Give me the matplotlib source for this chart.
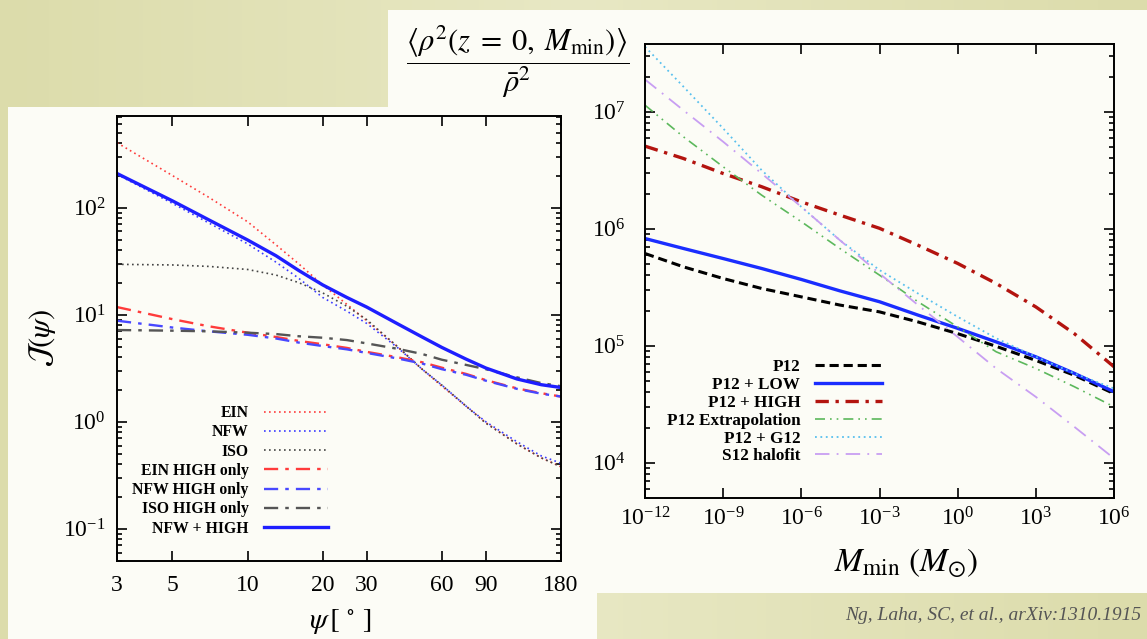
import numpy as np
import matplotlib
matplotlib.use('Agg')
import matplotlib.pyplot as plt
from matplotlib.patches import Rectangle
from matplotlib.ticker import FixedLocator, FixedFormatter, LogLocator, NullLocator, NullFormatter, LogFormatterMathtext

plt.rcParams['font.family'] = ['Liberation Serif', 'DejaVu Serif']
plt.rcParams['mathtext.fontset'] = 'stix'
plt.rcParams['axes.unicode_minus'] = False

# slide colours
khaki = '#dcdcab'
khaki_light = '#e8e8c4'
panel_white = '#fcfcf6'

# ---- left panel: J(psi) ----
psi = [3, 5, 7, 10, 13, 16, 20, 25, 30, 40, 50, 60, 75, 90, 120, 150, 180]
psi_ticks = [3, 5, 10, 20, 30, 60, 90, 180]
j_ein = [405, 200, 125, 74, 45, 30, 19, 12.5, 8.8, 5.0, 3.1, 2.15, 1.4, 0.98, 0.62, 0.46, 0.38]
j_nfw = [205, 110, 72, 46, 31, 22, 14.5, 10.8, 8.3, 4.9, 3.1, 2.2, 1.4, 1.0, 0.65, 0.48, 0.41]
j_iso = [29.6, 29.2, 28.3, 26.5, 23.5, 20, 16, 12, 9.0, 5.0, 3.1, 2.2, 1.4, 0.97, 0.62, 0.46, 0.38]
j_ein_high = [11.8, 9.1, 7.8, 6.8, 6.2, 5.7, 5.3, 4.9, 4.5, 4.0, 3.6, 3.2, 2.8, 2.45, 2.05, 1.85, 1.72]
j_nfw_high = [8.8, 7.6, 7.0, 6.5, 6.0, 5.5, 5.1, 4.75, 4.4, 3.9, 3.5, 3.1, 2.75, 2.42, 2.03, 1.83, 1.72]
j_iso_high = [7.2, 7.1, 7.0, 6.8, 6.6, 6.3, 6.1, 5.8, 5.4, 4.8, 4.3, 3.8, 3.4, 3.1, 2.6, 2.3, 2.15]
j_nfw_plus_high = [209, 116, 77, 50, 35.6, 26, 19, 14.5, 11.8, 8.2, 6.2, 4.95, 3.85, 3.18, 2.51, 2.22, 2.09]

# ---- right panel: clumping factor vs M_min ----
mmin = [1e-12, 3e-11, 1e-9, 3e-8, 1e-6, 3e-5, 1e-3, 3e-2, 1, 30, 1e3, 3e4, 1e6]
mmin_ticks = [1e-12, 1e-9, 1e-6, 1e-3, 1e0, 1e3, 1e6]
c_p12 = [6.15e5, 4.73e5, 3.76e5, 3.09e5, 2.62e5, 2.23e5, 1.95e5, 1.60e5, 1.27e5, 9.9e4, 7.5e4, 5.6e4, 3.9e4]
c_p12_low = [8.26e5, 6.79e5, 5.57e5, 4.58e5, 3.69e5, 2.95e5, 2.38e5, 1.83e5, 1.41e5, 1.08e5, 8.05e4, 5.81e4, 4.05e4]
c_p12_high = [5.09e6, 3.99e6, 2.97e6, 2.29e6, 1.70e6, 1.31e6, 1.01e6, 7.24e5, 5.06e5, 3.41e5, 2.15e5, 1.27e5, 6.62e4]
c_p12_extrap = [1.14e7, 6.11e6, 3.39e6, 1.94e6, 1.15e6, 6.79e5, 4.02e5, 2.38e5, 1.45e5, 8.89e4, 6.40e4, 4.47e4, 3.01e4]
c_p12_g12 = [3.6e7, 1.64e7, 7.21e6, 3.17e6, 1.54e6, 8.0e5, 4.44e5, 2.80e5, 1.77e5, 1.16e5, 8.05e4, 5.81e4, 4.32e4]
c_s12 = [1.89e7, 1.03e7, 5.55e6, 2.97e6, 1.54e6, 8.0e5, 4.15e5, 2.23e5, 1.19e5, 6.40e4, 3.66e4, 2.03e4, 1.09e4]

W, H = 1147, 639
fig = plt.figure(figsize=(W / 100, H / 100), dpi=100)

# slide background (soft gradient) and the two white panels
bg = fig.add_axes([0, 0, 1, 1], zorder=-10)
grad = np.linspace(0, 1, 256)[None, :]
bg.imshow(grad, aspect='auto', extent=[0, 1, 0, 1],
          cmap=matplotlib.colors.LinearSegmentedColormap.from_list('k', [khaki, khaki_light, khaki]))
bg.axis('off')
fig.patches.append(Rectangle((8 / W, 0), 589 / W, 532 / H, transform=fig.transFigure,
                             facecolor=panel_white, edgecolor='none', zorder=-5))
fig.patches.append(Rectangle((388 / W, 1 - 593 / H), 759 / W, 583 / H, transform=fig.transFigure,
                             facecolor=panel_white, edgecolor='none', zorder=-5))


def style_axes(ax):
    ax.set_facecolor('none')
    for s in ax.spines.values():
        s.set_linewidth(1.4)
    ax.tick_params(which='both', direction='in', top=True, right=True, width=1.2, labelsize=17)
    ax.tick_params(which='major', length=7)
    ax.tick_params(which='minor', length=3.5)


# left plot
ax1 = fig.add_axes([117 / W, 1 - 561 / H, 444 / W, 445 / H])
ax1.plot(psi, j_ein, color='#ff3b3b', lw=1.2, ls=(0, (1, 2)), label='EIN')
ax1.plot(psi, j_nfw, color='#3b3bff', lw=1.2, ls=(0, (1, 2)), label='NFW')
ax1.plot(psi, j_iso, color='#444444', lw=1.2, ls=(0, (1, 2)), label='ISO')
ax1.plot(psi, j_ein_high, color='#ff3b3b', lw=1.7, ls=(0, (6, 3, 1.5, 3)), label='EIN HIGH only')
ax1.plot(psi, j_nfw_high, color='#4848ff', lw=1.7, ls=(0, (6, 3, 1.5, 3)), label='NFW HIGH only')
ax1.plot(psi, j_iso_high, color='#555555', lw=1.7, ls=(0, (6, 3, 1.5, 3)), label='ISO HIGH only')
ax1.plot(psi, j_nfw_plus_high, color='#1e1eff', lw=2.4, label='NFW + HIGH')
ax1.set_xscale('log')
ax1.set_yscale('log')
ax1.set_xlim(3, 180)
ax1.set_ylim(0.05, 720)
ax1.xaxis.set_major_locator(FixedLocator(psi_ticks))
ax1.xaxis.set_major_formatter(FixedFormatter([str(t) for t in psi_ticks]))
ax1.xaxis.set_minor_locator(NullLocator())
ax1.xaxis.set_minor_formatter(NullFormatter())
ax1.yaxis.set_major_locator(LogLocator(base=10))
ax1.yaxis.set_major_formatter(LogFormatterMathtext())
ax1.yaxis.set_minor_locator(LogLocator(base=10, subs=np.arange(2, 10)))
style_axes(ax1)
ax1.tick_params(axis='x', pad=10)
ax1.tick_params(axis='y', pad=8)
ax1.legend(loc='upper right', bbox_to_anchor=(328 / W, 1 - 405 / H), bbox_transform=fig.transFigure,
           frameon=False, markerfirst=False, borderpad=0, borderaxespad=0, handlelength=4.1,
           handletextpad=0.95, labelspacing=0.21, prop={'weight': 'bold', 'size': 11.3})

fig.text(42 / W, 1 - 338 / H, r'$\mathcal{J}(\psi)$', rotation=90, ha='center', va='center', fontsize=22)
fig.text(340 / W, 1 - 622 / H, r'$\psi\,[\ ^{\circ}\ ]$', ha='center', va='center', fontsize=21)

# right plot
ax2 = fig.add_axes([645 / W, 1 - 498 / H, 469 / W, 454 / H])
ax2.plot(mmin, c_p12, color='black', lw=2.2, ls=(0, (3, 1.6)), label='P12')
ax2.plot(mmin, c_p12_low, color='#1a2dff', lw=2.4, label='P12 + LOW')
ax2.plot(mmin, c_p12_high, color='#b3140f', lw=2.4, ls=(0, (4, 2, 1, 2)), label='P12 + HIGH')
ax2.plot(mmin, c_p12_extrap, color='#5cb85c', lw=1.2, ls=(0, (6, 3, 1, 3, 1, 3)), label='P12 Extrapolation')
ax2.plot(mmin, c_p12_g12, color='#59c0ee', lw=1.3, ls=(0, (1, 2)), label='P12 + G12')
ax2.plot(mmin, c_s12, color='#c89ef2', lw=1.3, ls=(0, (8, 4, 1, 4)), label='S12 halofit')
ax2.set_xscale('log')
ax2.set_yscale('log')
ax2.set_xlim(1e-12, 1e6)
ax2.set_ylim(5e3, 3.8e7)
ax2.xaxis.set_major_locator(FixedLocator(mmin_ticks))
ax2.xaxis.set_major_formatter(LogFormatterMathtext())
ax2.xaxis.set_minor_locator(NullLocator())
ax2.yaxis.set_major_locator(LogLocator(base=10))
ax2.yaxis.set_major_formatter(LogFormatterMathtext())
ax2.yaxis.set_minor_locator(LogLocator(base=10, subs=np.arange(2, 10)))
style_axes(ax2)
ax2.tick_params(axis='x', pad=7)
ax2.tick_params(axis='y', pad=14)
ax2.legend(loc='upper right', bbox_to_anchor=(882 / W, 1 - 359 / H), bbox_transform=fig.transFigure,
           frameon=False, markerfirst=False, borderpad=0, borderaxespad=0, handlelength=3.9,
           handletextpad=0.88, labelspacing=0.11, prop={'weight': 'bold', 'size': 12.3})

fig.text(518 / W, 1 - 62 / H,
         r'$\dfrac{\langle\rho^2(z\;=\;0,\;M_{\rm min})\rangle}{\bar{\rho}^2}$',
         ha='center', va='center', fontsize=22)
fig.text(906 / W, 1 - 563 / H, r'$M_{\rm min}\ (M_{\odot})$', ha='center', va='center', fontsize=24)

fig.text(1141 / W, 1 - 616 / H, 'Ng, Laha, SC, et al., arXiv:1310.1915', ha='right', va='center',
         fontsize=14, style='italic', color='#555555')

fig.savefig('out.png', dpi=100)
